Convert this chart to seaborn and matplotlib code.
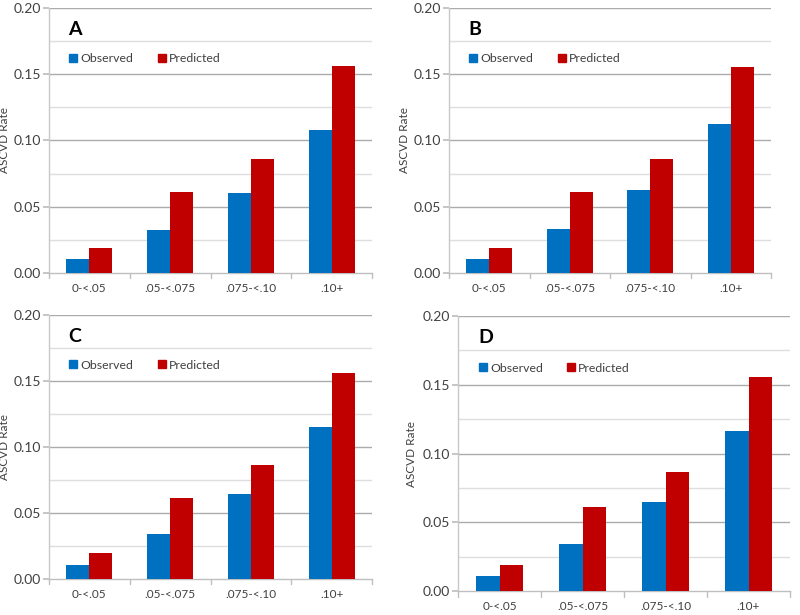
import numpy as np
import pandas as pd
import matplotlib
matplotlib.use('Agg')
import matplotlib.pyplot as plt
import seaborn as sns
from matplotlib.lines import Line2D

# risk groups on the x axis
categories = ['0-<.05', '.05-<.075', '.075-<.10', '.10+']
series = ['Observed', 'Predicted']
panel_labels = ['A', 'B', 'C', 'D']

# ASCVD rates
observed_A = [0.0103, 0.0323, 0.0605, 0.1080]
predicted_A = [0.0192, 0.0613, 0.0863, 0.1560]
observed_B = [0.0103, 0.0335, 0.0630, 0.1125]
predicted_B = [0.0192, 0.0613, 0.0863, 0.1556]
observed_C = [0.0106, 0.0340, 0.0646, 0.1155]
predicted_C = [0.0194, 0.0615, 0.0863, 0.1560]
observed_D = [0.0107, 0.0344, 0.0646, 0.1160]
predicted_D = [0.0191, 0.0613, 0.0864, 0.1557]

y_ticks = [0.00, 0.05, 0.10, 0.15, 0.20]
y_tick_labels = ['0.00', '0.05', '0.10', '0.15', '0.20']

BLUE = '#0070C0'
RED = '#C00000'

sns.set_theme(style='white')
plt.rcParams['font.family'] = ['Lato', 'DejaVu Sans']

fig = plt.figure(figsize=(8, 6.15), dpi=100)

# axes rectangles in figure fractions (left, bottom, width, height)
rects = [
    (0.0613, 0.5561, 0.4038, 0.4309),
    (0.5613, 0.5561, 0.4025, 0.4309),
    (0.0613, 0.0585, 0.4038, 0.4293),
    (0.5725, 0.0390, 0.4150, 0.4472),
]
data_sets = [
    (observed_A, predicted_A),
    (observed_B, predicted_B),
    (observed_C, predicted_C),
    (observed_D, predicted_D),
]

for rect, (obs, pred), letter in zip(rects, data_sets, panel_labels):
    ax = fig.add_axes(rect)
    df = pd.DataFrame({
        'group': categories * 2,
        'series': [series[0]] * len(categories) + [series[1]] * len(categories),
        'rate': list(obs) + list(pred),
    })
    sns.barplot(data=df, x='group', y='rate', hue='series', order=categories,
                hue_order=series, palette=[BLUE, RED], width=0.57,
                saturation=1, linewidth=0, ax=ax, legend=False, zorder=3)

    ax.set_ylim(0, 0.20)
    ax.set_xlim(-0.5, len(categories) - 0.5)
    ax.set_yticks(y_ticks)
    ax.set_yticklabels(y_tick_labels, fontsize=10, color='#404040')

    # gridlines: major darker, minor lighter
    for v in y_ticks[1:]:
        ax.axhline(v, color='#ABABAB', lw=1.0, zorder=1)
    for v in np.arange(0.025, 0.2, 0.05):
        ax.axhline(v, color='#DEDEDE', lw=1.0, zorder=1)

    ax.set_xticks(range(len(categories)))
    ax.set_xticklabels(categories, fontsize=8.5, color='#404040')
    ax.tick_params(axis='x', length=0, pad=7)
    ax.tick_params(axis='y', which='major', length=4, color='#BFBFBF',
                   left=True, pad=2)
    # boundary tick marks between categories
    for b in np.arange(-0.5, len(categories), 1.0):
        ax.plot([b, b], [0, -0.004], color='#BFBFBF', lw=1,
                clip_on=False, zorder=2)

    ax.set_xlabel('')
    ax.set_ylabel('ASCVD Rate', fontsize=8.5, color='#404040')
    ax.yaxis.set_label_coords(-0.122, 0.5)

    for side in ['top', 'right']:
        ax.spines[side].set_visible(False)
    ax.spines['left'].set_color('#C8C8C8')
    ax.spines['bottom'].set_color('#BFBFBF')
    ax.spines['left'].set_linewidth(1)
    ax.spines['bottom'].set_linewidth(1)

    ax.text(0.06, 0.92, letter, transform=ax.transAxes, fontsize=14,
            fontweight='bold', color='black', va='center', ha='left')

    handles = [Line2D([], [], marker='s', ls='', color=BLUE, markersize=6),
               Line2D([], [], marker='s', ls='', color=RED, markersize=6)]
    ax.legend(handles, series, loc='center left', bbox_to_anchor=(0.03, 0.81),
              ncol=2, frameon=False, fontsize=8.8, handlelength=0.6,
              handletextpad=0.3, columnspacing=2.0, labelcolor='#404040')

fig.savefig('out.png', dpi=100)
